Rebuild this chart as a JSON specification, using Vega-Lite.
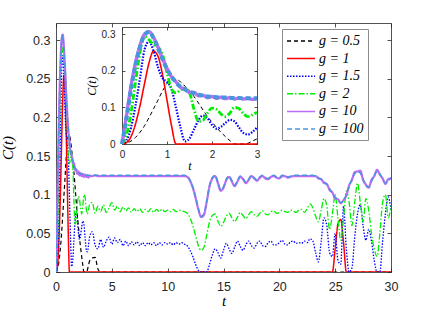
{
"$schema": "https://vega.github.io/schema/vega-lite/v6.json",
"autosize": "none",
"width": 335,
"height": 249,
"padding": {"left": 56, "top": 23, "right": 41, "bottom": 42},
"background": "white",
"datasets": {
"d": [
{"t":0,"a":0,"b":0,"c":0,"d":0,"e":0,"f":0},
{"t":0.1,"a":0.002,"b":0.004,"c":0.01,"d":0.025,"e":0.078,"f":0.07},
{"t":0.2,"a":0.008,"b":0.02,"c":0.045,"d":0.085,"e":0.158,"f":0.15},
{"t":0.3,"a":0.018,"b":0.055,"c":0.105,"d":0.17,"e":0.222,"f":0.215},
{"t":0.4,"a":0.032,"b":0.105,"c":0.18,"d":0.25,"e":0.27,"f":0.265},
{"t":0.5,"a":0.05,"b":0.165,"c":0.258,"d":0.294,"e":0.3,"f":0.298},
{"t":0.6,"a":0.072,"b":0.222,"c":0.28,"d":0.285,"e":0.307,"f":0.306},
{"t":0.7,"a":0.096,"b":0.254,"c":0.255,"d":0.272,"e":0.292,"f":0.29},
{"t":0.8,"a":0.12,"b":0.24,"c":0.21,"d":0.265,"e":0.265,"f":0.262},
{"t":0.9,"a":0.145,"b":0.19,"c":0.18,"d":0.245,"e":0.234,"f":0.232},
{"t":1.0,"a":0.165,"b":0.12,"c":0.17,"d":0.195,"e":0.207,"f":0.205},
{"t":1.1,"a":0.176,"b":0.05,"c":0.15,"d":0.15,"e":0.184,"f":0.185},
{"t":1.2,"a":0.177,"b":0,"c":0.1,"d":0.14,"e":0.17,"f":0.168},
{"t":1.3,"a":0.17,"b":0,"c":0.045,"d":0.148,"e":0.155,"f":0.157},
{"t":1.4,"a":0.158,"b":0,"c":0.007,"d":0.153,"e":0.151,"f":0.149},
{"t":1.5,"a":0.145,"b":0,"c":0.015,"d":0.14,"e":0.141,"f":0.143},
{"t":1.6,"a":0.13,"b":0,"c":0.04,"d":0.095,"e":0.141,"f":0.139},
{"t":1.7,"a":0.112,"b":0,"c":0.065,"d":0.062,"e":0.132,"f":0.135},
{"t":1.8,"a":0.093,"b":0,"c":0.078,"d":0.065,"e":0.133,"f":0.132},
{"t":1.9,"a":0.075,"b":0,"c":0.07,"d":0.085,"e":0.127,"f":0.13},
{"t":2.0,"a":0.06,"b":0,"c":0.052,"d":0.098,"e":0.13,"f":0.129},
{"t":2.1,"a":0.045,"b":0,"c":0.042,"d":0.095,"e":0.125,"f":0.128},
{"t":2.2,"a":0.032,"b":0,"c":0.047,"d":0.082,"e":0.128,"f":0.127},
{"t":2.3,"a":0.02,"b":0,"c":0.058,"d":0.075,"e":0.124,"f":0.127},
{"t":2.4,"a":0.009,"b":0,"c":0.066,"d":0.085,"e":0.127,"f":0.126},
{"t":2.5,"a":0,"b":0,"c":0.062,"d":0.1,"e":0.123,"f":0.126},
{"t":2.6,"a":0,"b":0,"c":0.045,"d":0.097,"e":0.126,"f":0.126},
{"t":2.7,"a":0,"b":0,"c":0.03,"d":0.083,"e":0.123,"f":0.125},
{"t":2.8,"a":0.002,"b":0,"c":0.026,"d":0.075,"e":0.125,"f":0.125},
{"t":2.9,"a":0.008,"b":0,"c":0.033,"d":0.08,"e":0.122,"f":0.125},
{"t":3.0,"a":0.014,"b":0,"c":0.045,"d":0.087,"e":0.124,"f":0.125},
{"t":3.25,"a":0.018,"b":0,"c":0.052,"d":0.09,"e":0.124,"f":0.125},
{"t":3.5,"a":0.019,"b":0,"c":0.035,"d":0.076,"e":0.125,"f":0.125},
{"t":3.75,"a":0.004,"b":0,"c":0.03,"d":0.085,"e":0.124,"f":0.125},
{"t":4.0,"a":0,"b":0,"c":0.042,"d":0.078,"e":0.124,"f":0.125},
{"t":4.25,"a":0,"b":0,"c":0.032,"d":0.087,"e":0.124,"f":0.125},
{"t":4.5,"a":0,"b":0,"c":0.04,"d":0.077,"e":0.124,"f":0.125},
{"t":4.75,"a":0,"b":0,"c":0.045,"d":0.083,"e":0.124,"f":0.125},
{"t":5.0,"a":0,"b":0,"c":0.036,"d":0.09,"e":0.124,"f":0.125},
{"t":5.25,"a":0,"b":0,"c":0.044,"d":0.08,"e":0.124,"f":0.125},
{"t":5.5,"a":0,"b":0,"c":0.038,"d":0.085,"e":0.124,"f":0.125},
{"t":5.75,"a":0,"b":0,"c":0.042,"d":0.078,"e":0.124,"f":0.125},
{"t":6.0,"a":0,"b":0,"c":0.034,"d":0.084,"e":0.124,"f":0.125},
{"t":6.25,"a":0,"b":0,"c":0.04,"d":0.079,"e":0.124,"f":0.125},
{"t":6.5,"a":0,"b":0,"c":0.034,"d":0.083,"e":0.124,"f":0.125},
{"t":6.75,"a":0,"b":0,"c":0.039,"d":0.077,"e":0.124,"f":0.125},
{"t":7.0,"a":0,"b":0,"c":0.035,"d":0.082,"e":0.124,"f":0.125},
{"t":7.25,"a":0,"b":0,"c":0.039,"d":0.078,"e":0.124,"f":0.125},
{"t":7.5,"a":0,"b":0,"c":0.034,"d":0.082,"e":0.124,"f":0.125},
{"t":7.75,"a":0,"b":0,"c":0.038,"d":0.077,"e":0.124,"f":0.125},
{"t":8.0,"a":0,"b":0,"c":0.034,"d":0.081,"e":0.124,"f":0.125},
{"t":8.25,"a":0,"b":0,"c":0.038,"d":0.078,"e":0.124,"f":0.125},
{"t":8.5,"a":0,"b":0,"c":0.035,"d":0.082,"e":0.124,"f":0.125},
{"t":8.75,"a":0,"b":0,"c":0.038,"d":0.077,"e":0.124,"f":0.125},
{"t":9.0,"a":0,"b":0,"c":0.034,"d":0.081,"e":0.124,"f":0.125},
{"t":9.25,"a":0,"b":0,"c":0.038,"d":0.078,"e":0.124,"f":0.125},
{"t":9.5,"a":0,"b":0,"c":0.035,"d":0.081,"e":0.124,"f":0.125},
{"t":9.75,"a":0,"b":0,"c":0.038,"d":0.078,"e":0.124,"f":0.125},
{"t":10.0,"a":0,"b":0,"c":0.036,"d":0.08,"e":0.124,"f":0.125},
{"t":10.25,"a":0,"b":0,"c":0.038,"d":0.078,"e":0.124,"f":0.125},
{"t":10.5,"a":0,"b":0,"c":0.035,"d":0.081,"e":0.124,"f":0.125},
{"t":10.75,"a":0,"b":0,"c":0.038,"d":0.078,"e":0.124,"f":0.125},
{"t":11.0,"a":0,"b":0,"c":0.036,"d":0.08,"e":0.124,"f":0.125},
{"t":11.25,"a":0,"b":0,"c":0.038,"d":0.079,"e":0.124,"f":0.125},
{"t":11.5,"a":0,"b":0,"c":0.036,"d":0.078,"e":0.124,"f":0.125},
{"t":11.75,"a":0,"b":0,"c":0.034,"d":0.076,"e":0.123,"f":0.124},
{"t":12.0,"a":0,"b":0,"c":0.028,"d":0.07,"e":0.118,"f":0.119},
{"t":12.25,"a":0,"b":0,"c":0.02,"d":0.06,"e":0.109,"f":0.11},
{"t":12.5,"a":0,"b":0,"c":0.01,"d":0.047,"e":0.096,"f":0.097},
{"t":12.75,"a":0,"b":0,"c":0.002,"d":0.034,"e":0.081,"f":0.082},
{"t":13.0,"a":0,"b":0,"c":0,"d":0.028,"e":0.071,"f":0.072},
{"t":13.25,"a":0,"b":0,"c":0,"d":0.032,"e":0.074,"f":0.075},
{"t":13.5,"a":0,"b":0,"c":0,"d":0.048,"e":0.091,"f":0.092},
{"t":13.75,"a":0,"b":0,"c":0.01,"d":0.065,"e":0.111,"f":0.112},
{"t":14.0,"a":0,"b":0,"c":0.022,"d":0.073,"e":0.121,"f":0.122},
{"t":14.25,"a":0,"b":0,"c":0.03,"d":0.075,"e":0.124,"f":0.125},
{"t":14.5,"a":0,"b":0,"c":0.025,"d":0.066,"e":0.115,"f":0.116},
{"t":14.75,"a":0,"b":0,"c":0.018,"d":0.059,"e":0.105,"f":0.106},
{"t":15.0,"a":0,"b":0,"c":0.028,"d":0.064,"e":0.109,"f":0.11},
{"t":15.25,"a":0,"b":0,"c":0.037,"d":0.072,"e":0.119,"f":0.12},
{"t":15.5,"a":0,"b":0,"c":0.03,"d":0.076,"e":0.123,"f":0.124},
{"t":15.75,"a":0,"b":0,"c":0.024,"d":0.07,"e":0.117,"f":0.118},
{"t":16.0,"a":0,"b":0,"c":0.032,"d":0.065,"e":0.111,"f":0.112},
{"t":16.25,"a":0,"b":0,"c":0.04,"d":0.071,"e":0.117,"f":0.118},
{"t":16.5,"a":0,"b":0,"c":0.033,"d":0.077,"e":0.123,"f":0.124},
{"t":16.75,"a":0,"b":0,"c":0.028,"d":0.073,"e":0.12,"f":0.121},
{"t":17.0,"a":0,"b":0,"c":0.035,"d":0.069,"e":0.115,"f":0.116},
{"t":17.25,"a":0,"b":0,"c":0.04,"d":0.074,"e":0.119,"f":0.12},
{"t":17.5,"a":0,"b":0,"c":0.034,"d":0.078,"e":0.124,"f":0.125},
{"t":17.75,"a":0,"b":0,"c":0.031,"d":0.074,"e":0.121,"f":0.122},
{"t":18.0,"a":0,"b":0,"c":0.037,"d":0.072,"e":0.118,"f":0.119},
{"t":18.25,"a":0,"b":0,"c":0.04,"d":0.076,"e":0.122,"f":0.123},
{"t":18.5,"a":0,"b":0,"c":0.034,"d":0.079,"e":0.124,"f":0.125},
{"t":18.75,"a":0,"b":0,"c":0.033,"d":0.075,"e":0.121,"f":0.122},
{"t":19.0,"a":0,"b":0,"c":0.038,"d":0.074,"e":0.12,"f":0.121},
{"t":19.25,"a":0,"b":0,"c":0.04,"d":0.078,"e":0.123,"f":0.124},
{"t":19.5,"a":0,"b":0,"c":0.035,"d":0.079,"e":0.124,"f":0.125},
{"t":19.75,"a":0,"b":0,"c":0.035,"d":0.076,"e":0.122,"f":0.123},
{"t":20.0,"a":0,"b":0,"c":0.038,"d":0.077,"e":0.121,"f":0.122},
{"t":20.25,"a":0,"b":0,"c":0.041,"d":0.08,"e":0.124,"f":0.125},
{"t":20.5,"a":0,"b":0,"c":0.036,"d":0.078,"e":0.124,"f":0.125},
{"t":20.75,"a":0,"b":0,"c":0.035,"d":0.077,"e":0.122,"f":0.123},
{"t":21.0,"a":0,"b":0,"c":0.039,"d":0.08,"e":0.123,"f":0.124},
{"t":21.25,"a":0,"b":0,"c":0.04,"d":0.079,"e":0.124,"f":0.125},
{"t":21.5,"a":0,"b":0,"c":0.037,"d":0.077,"e":0.124,"f":0.125},
{"t":21.75,"a":0,"b":0,"c":0.038,"d":0.08,"e":0.124,"f":0.125},
{"t":22.0,"a":0,"b":0,"c":0.037,"d":0.081,"e":0.124,"f":0.125},
{"t":22.25,"a":0,"b":0,"c":0.04,"d":0.077,"e":0.124,"f":0.125},
{"t":22.5,"a":0,"b":0,"c":0.038,"d":0.082,"e":0.124,"f":0.125},
{"t":22.75,"a":0,"b":0,"c":0.043,"d":0.088,"e":0.124,"f":0.125},
{"t":23.0,"a":0,"b":0,"c":0.04,"d":0.083,"e":0.124,"f":0.125},
{"t":23.25,"a":0,"b":0,"c":0.025,"d":0.072,"e":0.124,"f":0.124},
{"t":23.5,"a":0,"b":0,"c":0.013,"d":0.065,"e":0.121,"f":0.122},
{"t":23.75,"a":0,"b":0,"c":0.04,"d":0.08,"e":0.12,"f":0.12},
{"t":24.0,"a":0,"b":0,"c":0.07,"d":0.095,"e":0.115,"f":0.117},
{"t":24.25,"a":0,"b":0,"c":0.06,"d":0.085,"e":0.114,"f":0.113},
{"t":24.5,"a":0,"b":0,"c":0.025,"d":0.055,"e":0.106,"f":0.108},
{"t":24.75,"a":0,"b":0,"c":0.02,"d":0.075,"e":0.103,"f":0.102},
{"t":25.0,"a":0,"b":0.03,"c":0.05,"d":0.1,"e":0.095,"f":0.097},
{"t":25.25,"a":0,"b":0.062,"c":0.015,"d":0.07,"e":0.094,"f":0.093},
{"t":25.5,"a":0,"b":0.068,"c":0.01,"d":0.041,"e":0.089,"f":0.09},
{"t":25.75,"a":0,"b":0.038,"c":0.085,"d":0.07,"e":0.093,"f":0.092},
{"t":26.0,"a":0,"b":0,"c":0.03,"d":0.105,"e":0.099,"f":0.1},
{"t":26.25,"a":0,"b":0,"c":0,"d":0.09,"e":0.112,"f":0.11},
{"t":26.5,"a":0,"b":0,"c":0.005,"d":0.06,"e":0.119,"f":0.12},
{"t":26.75,"a":0,"b":0,"c":0.045,"d":0.09,"e":0.129,"f":0.127},
{"t":27.0,"a":0,"b":0,"c":0.075,"d":0.115,"e":0.13,"f":0.13},
{"t":27.25,"a":0,"b":0,"c":0.087,"d":0.09,"e":0.131,"f":0.128},
{"t":27.5,"a":0,"b":0,"c":0.06,"d":0.065,"e":0.119,"f":0.12},
{"t":27.75,"a":0,"b":0,"c":0.041,"d":0.095,"e":0.113,"f":0.112},
{"t":28.0,"a":0,"b":0,"c":0.055,"d":0.08,"e":0.109,"f":0.11},
{"t":28.25,"a":0,"b":0,"c":0.04,"d":0.05,"e":0.119,"f":0.117},
{"t":28.5,"a":0,"b":0,"c":0.015,"d":0.03,"e":0.124,"f":0.125},
{"t":28.75,"a":0,"b":0,"c":0,"d":0.02,"e":0.132,"f":0.13},
{"t":29.0,"a":0,"b":0,"c":0,"d":0.05,"e":0.126,"f":0.127},
{"t":29.25,"a":0,"b":0,"c":0.04,"d":0.09,"e":0.121,"f":0.12},
{"t":29.5,"a":0,"b":0,"c":0.075,"d":0.1,"e":0.114,"f":0.115},
{"t":29.75,"a":0,"b":0,"c":0.097,"d":0.07,"e":0.12,"f":0.118},
{"t":30.0,"a":0,"b":0,"c":0.08,"d":0.086,"e":0.121,"f":0.122}
]
},
"resolve": {"scale": {"x": "independent", "y": "independent"}},
"layer": [
{
"data": {"name": "d"},
"transform": [{"fold": ["a","b","c","d","e","f"], "as": ["k","C"]}],
"mark": {"type": "line", "clip": true, "interpolate": "monotone"},
"encoding": {
"x": {"field": "t", "type": "quantitative", "scale": {"domain": [0,30], "nice": false},
 "axis": {"orient": "bottom", "values": [0,5,10,15,20,25,30], "tickSize": -4, "labelPadding": 12, "labelFontSize": 12.5, "title": "t", "titleFontSize": 15, "titlePadding": 1}},
"y": {"field": "C", "type": "quantitative", "scale": {"domain": [0,0.322], "nice": false},
 "axis": {"orient": "left", "values": [0,0.05,0.1,0.15,0.2,0.25,0.3], "format": ".2~f", "tickSize": -4, "labelPadding": 10, "labelFontSize": 12.5, "title": "C(t)", "titleFontSize": 15, "titlePadding": 10}},
"color": {"field": "k", "type": "nominal", "scale": {"domain": ["a","b","c","d","e","f"], "range": ["#000000","#ff0000","#0000ff","#00ee00","#bc6cf5","#4596da"]},
 "legend": {"title": null, "labelExpr": "datum.label == 'a' ? 'g = 0.5' : datum.label == 'b' ? 'g = 1' : datum.label == 'c' ? 'g = 1.5' : datum.label == 'd' ? 'g = 2' : datum.label == 'e' ? 'g = 10' : 'g = 100'"}},
"strokeDash": {"field": "k", "type": "nominal", "scale": {"domain": ["a","b","c","d","e","f"], "range": [[4,3],[1,0],[1.5,1.5],[6,2,1.5,2],[1,0],[5,3]]},
 "legend": {"title": null, "labelExpr": "datum.label == 'a' ? 'g = 0.5' : datum.label == 'b' ? 'g = 1' : datum.label == 'c' ? 'g = 1.5' : datum.label == 'd' ? 'g = 2' : datum.label == 'e' ? 'g = 10' : 'g = 100'"}},
"strokeWidth": {"field": "k", "type": "nominal", "scale": {"type": "ordinal", "domain": ["a","b","c","d","e","f"], "range": [1.2,1.5,1.3,1.3,2.2,1.5]}, "legend": null}
}
},
{
"data": {"name": "d"},
"mark": {"type": "point", "opacity": 0},
"encoding": {
"x": {"field": "t", "type": "quantitative", "scale": {"domain": [0,30], "nice": false},
 "axis": {"orient": "top", "values": [0,5,10,15,20,25,30], "tickSize": -4, "labels": false, "title": null}},
"y": {"field": "a", "type": "quantitative", "scale": {"domain": [0,0.322], "nice": false},
 "axis": {"orient": "right", "values": [0,0.05,0.1,0.15,0.2,0.25,0.3], "tickSize": -4, "labels": false, "title": null}}
}
},
{
"data": {"name": "d"},
"transform": [{"filter": "datum.t <= 3"}, {"fold": ["a","b","c","d","e","f"], "as": ["k","C"]}],
"mark": {"type": "line", "interpolate": "monotone"},
"encoding": {
"x": {"field": "t", "type": "quantitative", "scale": {"domain": [0,3], "nice": false, "range": [66,201]},
 "axis": {"orient": "bottom", "offset": -128, "values": [0,1,2,3], "tickSize": -3, "labelPadding": 8, "labelFontSize": 10, "title": "t", "titleFontSize": 12, "titlePadding": 1}},
"y": {"field": "C", "type": "quantitative", "scale": {"domain": [0,0.32], "nice": false, "range": [121,4]},
 "axis": {"orient": "left", "offset": -66, "values": [0,0.1,0.2,0.3], "format": ".1~f", "tickSize": -3, "labelPadding": 10, "labelFontSize": 10, "title": "C(t)", "titleFontSize": 12, "titlePadding": 3}},
"color": {"field": "k", "type": "nominal", "legend": null},
"strokeDash": {"field": "k", "type": "nominal", "legend": null},
"strokeWidth": {"field": "k", "type": "nominal", "legend": null}
}
},
{
"data": {"name": "d"},
"transform": [{"filter": "datum.t <= 3"}],
"mark": {"type": "point", "opacity": 0},
"encoding": {
"x": {"field": "t", "type": "quantitative", "scale": {"domain": [0,3], "nice": false, "range": [66,201]},
 "axis": {"orient": "top", "offset": -4, "values": [0,1,2,3], "tickSize": -3, "labels": false, "title": null}},
"y": {"field": "a", "type": "quantitative", "scale": {"domain": [0,0.32], "nice": false, "range": [121,4]},
 "axis": {"orient": "right", "offset": -134, "values": [0,0.1,0.2,0.3], "tickSize": -3, "labels": false, "title": null}}
}
}
],
"config": {
"view": {"stroke": null},
"axis": {"grid": false, "domainColor": "#262626", "tickColor": "#262626", "labelColor": "#262626", "titleColor": "#000000", "domainWidth": 0.8, "tickWidth": 0.8, "labelFlush": false, "labelOverlap": false, "labelFont": "Liberation Sans", "titleFont": "Liberation Serif", "titleFontStyle": "italic", "titleFontWeight": "normal"},
"legend": {"orient": "none", "legendX": 226, "legendY": 6, "symbolType": "M-1,0H3", "symbolSize": 196, "symbolStrokeWidth": 1.5, "labelFont": "Liberation Serif", "labelFontStyle": "italic", "labelFontSize": 14, "labelColor": "#000000", "strokeColor": "#8c8c8c", "fillColor": "#ffffff", "padding": 4, "rowPadding": 2.6, "labelOffset": 17}
}
}
